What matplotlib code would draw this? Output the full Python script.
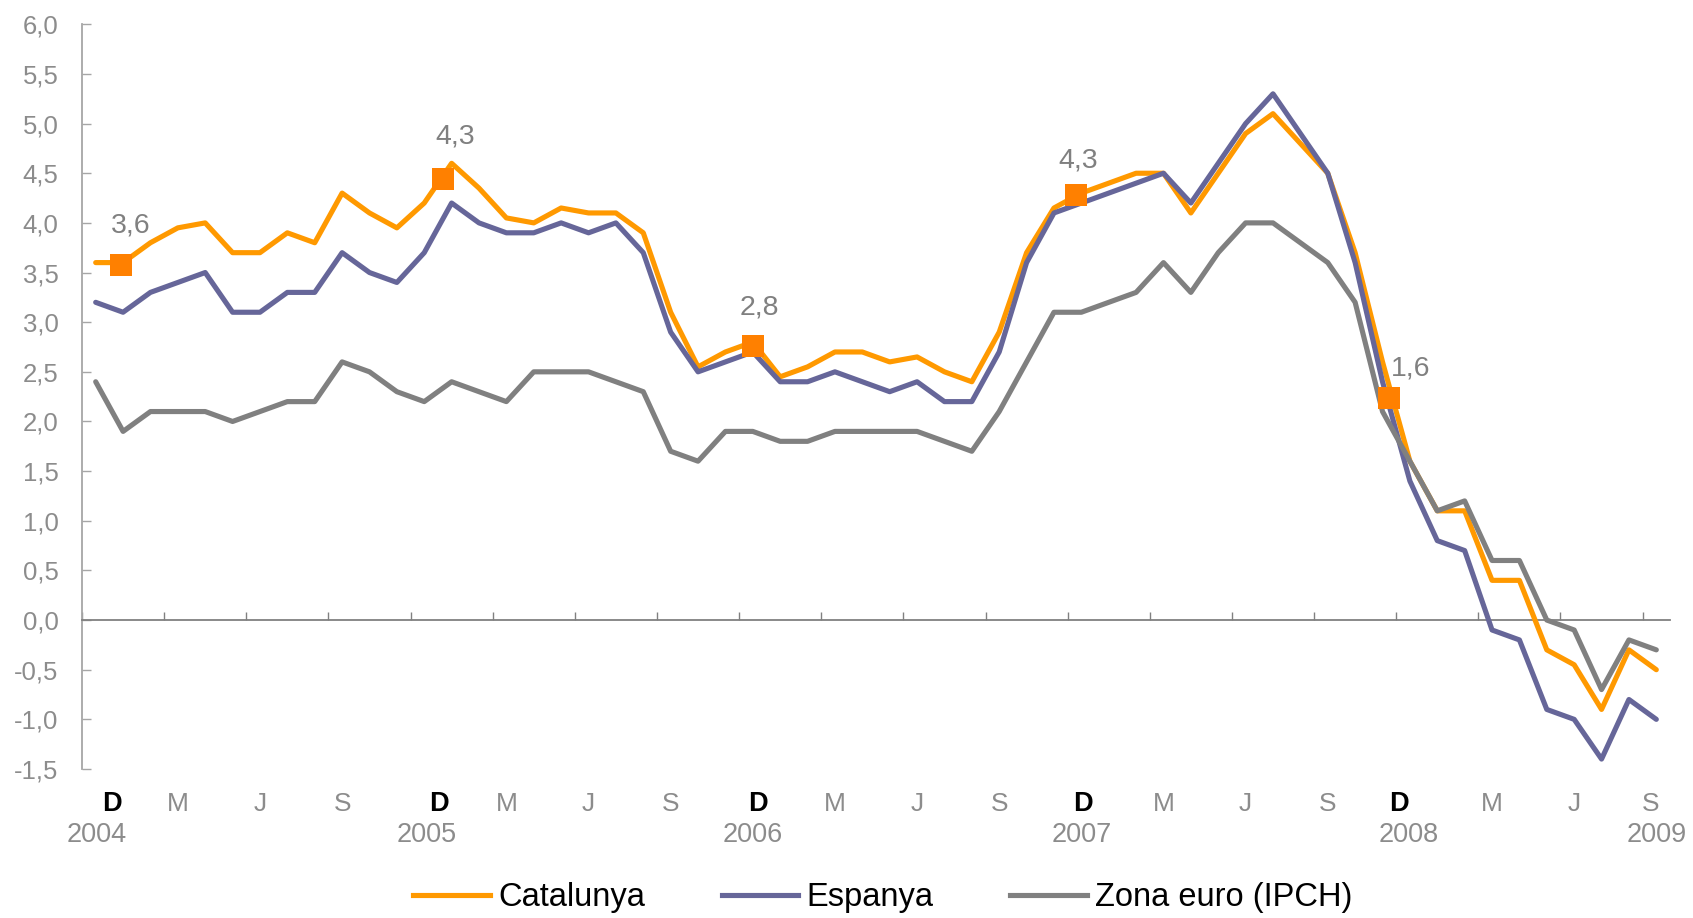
import numpy as np
import matplotlib
matplotlib.use("Agg")
import matplotlib.pyplot as plt
from matplotlib.lines import Line2D
from matplotlib.ticker import FixedLocator, FuncFormatter

plt.rcParams['font.family'] = ['Liberation Sans', 'DejaVu Sans']

# ---------------- data (monthly, Dec 2004 .. Sep 2009) ----------------
series_names = ["Catalunya", "Espanya", "Zona euro (IPCH)"]

catalunya = [3.6,
             3.6, 3.8, 3.95, 4.0, 3.7, 3.7, 3.9, 3.8, 4.3, 4.1, 3.95, 4.2,
             4.6, 4.35, 4.05, 4.0, 4.15, 4.1, 4.1, 3.9, 3.1, 2.55, 2.7, 2.8,
             2.45, 2.55, 2.7, 2.7, 2.6, 2.65, 2.5, 2.4, 2.9, 3.7, 4.15, 4.3,
             4.4, 4.5, 4.5, 4.1, 4.5, 4.9, 5.1, 4.8, 4.5, 3.7, 2.6, 1.6,
             1.1, 1.1, 0.4, 0.4, -0.3, -0.45, -0.9, -0.3, -0.5]

espanya = [3.2,
           3.1, 3.3, 3.4, 3.5, 3.1, 3.1, 3.3, 3.3, 3.7, 3.5, 3.4, 3.7,
           4.2, 4.0, 3.9, 3.9, 4.0, 3.9, 4.0, 3.7, 2.9, 2.5, 2.6, 2.7,
           2.4, 2.4, 2.5, 2.4, 2.3, 2.4, 2.2, 2.2, 2.7, 3.6, 4.1, 4.2,
           4.3, 4.4, 4.5, 4.2, 4.6, 5.0, 5.3, 4.9, 4.5, 3.6, 2.4, 1.4,
           0.8, 0.7, -0.1, -0.2, -0.9, -1.0, -1.4, -0.8, -1.0]

zona_euro = [2.4,
             1.9, 2.1, 2.1, 2.1, 2.0, 2.1, 2.2, 2.2, 2.6, 2.5, 2.3, 2.2,
             2.4, 2.3, 2.2, 2.5, 2.5, 2.5, 2.4, 2.3, 1.7, 1.6, 1.9, 1.9,
             1.8, 1.8, 1.9, 1.9, 1.9, 1.9, 1.8, 1.7, 2.1, 2.6, 3.1, 3.1,
             3.2, 3.3, 3.6, 3.3, 3.7, 4.0, 4.0, 3.8, 3.6, 3.2, 2.1, 1.6,
             1.1, 1.2, 0.6, 0.6, 0.0, -0.1, -0.7, -0.2, -0.3]

# highlighted December values for Catalunya (position in months, value, label)
highlight_pos = [0.93, 12.67, 24.02, 35.80, 47.25]
highlight_val = [3.58, 4.44, 2.76, 4.28, 2.24]
highlight_labels = ["3,6", "4,3", "2,8", "4,3", "1,6"]

# month labels along the time axis
month_labels = ["D", "M", "J", "S"] * 4 + ["D", "M", "J", "S"]
month_label_pos = [0.6, 3, 6, 9, 12.55, 15, 18, 21, 24.2, 27, 30, 33,
                   36.05, 39, 42, 45, 47.6, 51, 54, 56.8]
year_labels = ["2004", "2005", "2006", "2007", "2008", "2009"]
year_label_pos = [0.05, 12.1, 24.0, 36.0, 47.95, 57.0]

y_ticks = [-1.5, -1.0, -0.5, 0.0, 0.5, 1.0, 1.5, 2.0, 2.5, 3.0, 3.5, 4.0,
           4.5, 5.0, 5.5, 6.0]

# ---------------- styles ----------------
colors = ["#FF9900", "#666699", "#808080"]
marker_color = "#FF8000"
grey_text = "#8c8c8c"
lw = 3.7

W, H = 1693, 918
fig = plt.figure(figsize=(W / 100, H / 100), dpi=100)
ax_left, ax_right = 82 / W, 1670 / W
ax_top, ax_bot = 24.3 / H, 769 / H
ax = fig.add_axes([ax_left, 1 - ax_bot, ax_right - ax_left, ax_bot - ax_top])

n = len(catalunya)
x = np.arange(n)
for vals, c in zip([catalunya, espanya, zona_euro], colors):
    ax.plot(x, vals, color=c, lw=lw, solid_joinstyle='round',
            solid_capstyle='round', zorder=3)

ax.plot(highlight_pos, highlight_val, linestyle='none', marker='s',
        markersize=16, color=marker_color, markeredgewidth=0, zorder=5)
label_offsets = [(6.8, 27.8), (9, 31), (4.3, 28), (1.4, 25.2), (15.5, 20.9)]
for px, pv, lab, off in zip(highlight_pos, highlight_val, highlight_labels,
                            label_offsets):
    ax.annotate(lab, xy=(px, pv), xytext=off, textcoords='offset points',
                ha='center', va='center', fontsize=20.5, color="#808080",
                zorder=6)

ax.set_xlim(-0.5, n - 0.5)
ax.set_ylim(-1.5, 6.0)

# spines
for s in ["top", "right"]:
    ax.spines[s].set_visible(False)
ax.spines["left"].set_color("#a6a6a6")
ax.spines["left"].set_linewidth(1.3)
ax.spines["bottom"].set_position(("data", 0))
ax.spines["bottom"].set_color("#808080")
ax.spines["bottom"].set_linewidth(1.3)

# y axis
ax.yaxis.set_major_locator(FixedLocator(y_ticks))
ax.yaxis.set_major_formatter(FuncFormatter(
    lambda v, p: f"{v:.1f}".replace(".", ",").replace("-0,0", "0,0")))
ax.tick_params(axis='y', direction='in', length=6.5, width=1.0,
               color="#a6a6a6", labelcolor=grey_text, labelsize=18.5, pad=17)

# x axis: quarter ticks between categories
ax.xaxis.set_major_locator(FixedLocator(np.arange(-0.5, n, 3)))
ax.tick_params(axis='x', direction='in', length=5.5, width=1.0,
               color="#808080", labelbottom=False)

xt = ax.get_xaxis_transform()
for lab, pos in zip(month_labels, month_label_pos):
    bold = lab == "D"
    ax.annotate(lab, xy=(pos, 0), xycoords=xt, xytext=(0, -25.2),
                textcoords='offset points', ha='center', va='center',
                fontsize=19.5 if bold else 19,
                fontweight='bold' if bold else 'normal',
                color='black' if bold else grey_text, annotation_clip=False)
for lab, pos in zip(year_labels, year_label_pos):
    ax.annotate(lab, xy=(pos, 0), xycoords=xt, xytext=(0, -47.2),
                textcoords='offset points', ha='center', va='center',
                fontsize=19.5, color=grey_text, annotation_clip=False)

handles = [Line2D([0], [0], color=c, lw=lw) for c in colors]
fig.legend(handles, series_names, loc='center', bbox_to_anchor=(0.5215, 0.0218),
           ncol=3, frameon=False, fontsize=23.5, handlelength=2.35,
           handletextpad=0.25, columnspacing=2.35)

fig.savefig("out.png", dpi=100, facecolor='white')
